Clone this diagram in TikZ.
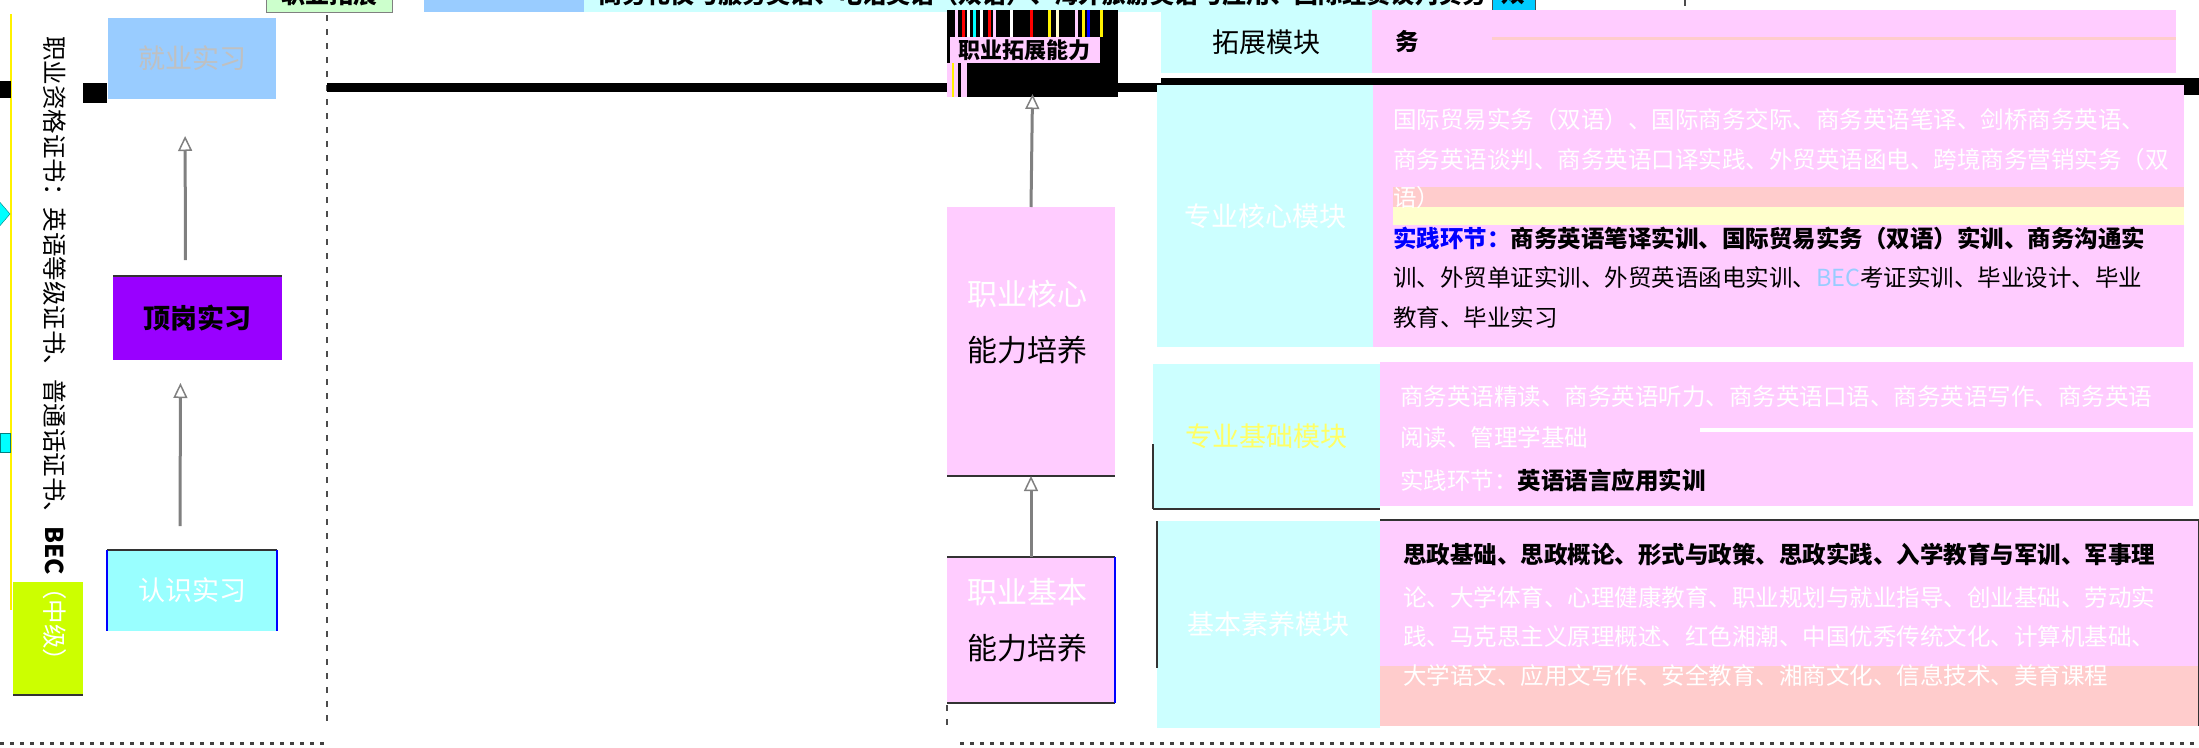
\documentclass[tikz,border=0pt]{standalone}
\usepackage{fontspec}
\newfontfamily\cjk{Noto Sans CJK SC}
\usetikzlibrary{arrows.meta}
\definecolor{lblue}{HTML}{99CCFF}
\definecolor{purp}{HTML}{9900FF}
\definecolor{lcyan}{HTML}{99FFFF}
\definecolor{pcyan}{HTML}{CCFFFF}
\definecolor{ppink}{HTML}{FFCCFF}
\definecolor{salmon}{HTML}{FFCCCC}
\definecolor{pyel}{HTML}{FFFFCC}
\definecolor{lgreen}{HTML}{CCFFCC}
\definecolor{skyb}{HTML}{00CCFF}
\definecolor{ygreen}{HTML}{CCFF00}
\definecolor{cyanb}{HTML}{00FFFF}
\definecolor{bluetxt}{HTML}{0000FF}
\definecolor{ltgray}{HTML}{C0C0C0}
\definecolor{yelt}{HTML}{FFFF66}
\begin{document}
\begin{tikzpicture}[x=1pt,y=-1pt,
  cell/.style={anchor=north west,inner sep=0pt,outer sep=0pt,draw=none},
  lbl/.style={font=\cjk\fontsize{27}{32}\selectfont},
  tline/.style={anchor=west,inner sep=0pt,font=\cjk\fontsize{23.5}{28}\selectfont},
  edge/.style={line width=2pt,black!80},
  bedge/.style={line width=2pt,blue},
  arr/.style={line width=3pt,gray,-{Triangle[length=15pt,width=14pt,line width=1.5pt,fill=white]}},
  dsh/.style={dash pattern=on 6pt off 8pt,line width=2pt,black!70},
  dot/.style={dash pattern=on 4pt off 6pt,line width=3pt,black!75}]
\useasboundingbox (0,0) rectangle (2199,747);
\clip (0,0) rectangle (2199,747);
\fill[white] (0,0) rectangle (2199,747);

% ---------- top strip (cut off at the top edge, as in the reference) ----------
\node[cell,fill=lgreen,draw=gray,minimum width=126pt,minimum height=40pt] (tg) at (266,-28) {};
\node[font=\cjk\bfseries\fontsize{24}{28}\selectfont] (tgt) at (329,-6) {职业拓展};
\node[cell,fill=lblue,minimum width=160pt,minimum height=40pt] (tb) at (424,-28) {};
\node[cell,fill=pcyan,minimum width=866pt,minimum height=40pt] (tc) at (584,-28) {};
\node[tline,font=\cjk\bfseries\fontsize{24}{28}\selectfont] (tct) at (598,-6) {商务礼仪与服务英语、电话英语（双语）、海外旅游英语与应用、国际经贸谈判实务};
\node[cell,fill=skyb,draw=black!70,minimum width=43pt,minimum height=40pt] (ts) at (1492,-28) {};
\node[font=\cjk\bfseries\fontsize{24}{28}\selectfont] (tst) at (1513,-6) {双};
\coordinate (td1) at (1685,0); \coordinate (td2) at (1685,12);
\draw[dsh] (td1) -- (td2);

% ---------- left decorations ----------
\coordinate (ly1) at (11,14); \coordinate (ly2) at (11,610);
\draw[line width=2pt,yellow] (ly1) -- (ly2);
\fill[cyanb,draw=teal] (-2,200) -- (10,214) -- (-2,228) -- cycle;
\fill[cyanb,draw=teal] (0,433) rectangle (10,452);
\fill[black] (0,81) rectangle (11,98);
\fill[black] (83,83) rectangle (107,103);
\node[cell,fill=ygreen,minimum width=70pt,minimum height=113pt] (yg) at (13,582) {};
\draw[edge] (yg.south west) -- (yg.south east);
\node[rotate=-90,anchor=west,inner sep=0pt,font=\cjk\fontsize{24.5}{28}\selectfont] (vt) at (55,36)
  {职业资格证书：英语等级证书、普通话证书、{\bfseries BEC}\textcolor{white}{（中级）}};

% ---------- left group ----------
\node[cell,lbl,fill=lblue,text=ltgray,minimum width=168pt,minimum height=81pt] (jiuye) at (108,18) {就业实习};
\node[cell,lbl,fill=purp,text=black,font=\cjk\bfseries\fontsize{27}{32}\selectfont,minimum width=169pt,minimum height=84pt] (dinggang) at (113,276) {顶岗实习};
\node[cell,lbl,fill=lcyan,text=white,minimum width=170pt,minimum height=81pt] (renshi) at (107,550) {认识实习};
\draw[edge] (dinggang.north west) -- (dinggang.north east);
\draw[edge] (renshi.north west) -- (renshi.north east);
\draw[bedge] (renshi.north west) -- (renshi.south west);
\draw[bedge] (renshi.north east) -- (renshi.south east);
\draw[arr,shorten <=24pt,shorten >=23pt] ([xshift=-12pt]renshi.north) -- ([xshift=-17pt]dinggang.south);
\draw[arr,shorten <=16pt,shorten >=37pt] ([xshift=-12pt]dinggang.north) -- ([xshift=-7pt]jiuye.south);

\coordinate (ld1) at (327,15); \coordinate (ld2) at (327,727);
\draw[dsh] (ld1) -- (ld2);
\coordinate (b1) at (0,743); \coordinate (b2) at (327,743);
\coordinate (b3) at (960,743); \coordinate (b4) at (2199,743);
\draw[dot] (b1) -- (b2);
\draw[dot] (b3) -- (b4);
\coordinate (md1) at (947,705); \coordinate (md2) at (947,730);
\draw[dsh] (md1) -- (md2);

% ---------- thick black line ----------
\fill[black] (327,83) rectangle (1161,92);
\fill[black] (1161,78) rectangle (2199,85);
\fill[black] (2184,78) rectangle (2199,95);

% ---------- glitch block (职业拓展能力) ----------
\node[cell,fill=black,minimum width=171pt,minimum height=87pt] (nl) at (947,10) {};
\foreach \xx/\cc in {955/ppink,962/red,967/white,973/cyanb,980/white,988/red,993/ppink,1010/white,1030/red,1048/yellow,1056/pyel,1075/ppink,1082/yellow,1087/blue,1100/yellow}
  \fill[\cc] (\xx,10) rectangle (\xx+3,37);
\fill[ppink] (950,37) rectangle (1100,63);
\fill[ppink] (947,63) rectangle (967,97);
\fill[yellow] (952,63) rectangle (954,97);
\fill[black] (958,63) rectangle (961,97);
\node[font=\cjk\bfseries\fontsize{22}{26}\selectfont,inner sep=0pt] (nlt) at (1024,50) {职业拓展能力};

% ---------- middle group ----------
\node[cell,fill=ppink,minimum width=168pt,minimum height=269pt] (hexin) at (947,207) {};
\node[anchor=north west,inner sep=0pt,align=left,font=\cjk\fontsize{30}{56}\selectfont] (hexint) at (967,280)
  {\textcolor{white}{职业核心}\\能力培养};
\draw[edge] (hexin.south west) -- (hexin.south east);
\node[cell,fill=ppink,minimum width=168pt,minimum height=146pt] (jiben) at (947,557) {};
\node[anchor=north west,inner sep=0pt,align=left,font=\cjk\fontsize{30}{56}\selectfont] (jibent) at (967,578)
  {\textcolor{white}{职业基本}\\能力培养};
\draw[edge] (jiben.north west) -- (jiben.north east);
\draw[edge] (jiben.south west) -- (jiben.south east);
\draw[bedge] (jiben.north east) -- (jiben.south east);
\draw[arr] (jiben.north) -- (hexin.south);
\draw[arr] (hexin.north) -- ([yshift=3pt]nl.south);

% ---------- table ----------
% row 1
\node[cell,lbl,fill=pcyan,minimum width=211pt,minimum height=61pt] (r1l) at (1161,12) {拓展模块};
\node[cell,fill=ppink,minimum width=804pt,minimum height=63pt] (r1c) at (1372,10) {};
\node[tline,font=\cjk\bfseries\fontsize{23.5}{28}\selectfont] (r1t) at (1395,42) {务};
\fill[salmon] (1492,37) rectangle (2176,40);

% row 2
\node[cell,lbl,fill=pcyan,text=white,minimum width=216pt,minimum height=262pt] (r2l) at (1157,85) {专业核心模块};
\node[cell,fill=ppink,minimum width=811pt,minimum height=262pt] (r2c) at (1373,85) {};
\fill[salmon] (1393,187) rectangle (2184,207);
\fill[pyel] (1393,207) rectangle (2184,225);
\node[tline,text=white] (r2a) at (1393,120) {国际贸易实务（双语）、国际商务交际、商务英语笔译、剑桥商务英语、};
\node[tline,text=white] (r2b) at (1393,160) {商务英语谈判、商务英语口译实践、外贸英语函电、跨境商务营销实务（双};
\node[tline,text=white] (r2d) at (1393,198) {语）};
\node[tline,font=\cjk\bfseries\fontsize{23.5}{28}\selectfont] (r2e) at (1393,238) {\textcolor{bluetxt}{实践环节：}商务英语笔译实训、国际贸易实务（双语）实训、商务沟通实};
\node[tline] (r2f) at (1393,278) {训、外贸单证实训、外贸英语函电实训、\textcolor{lblue}{BEC}考证实训、毕业设计、毕业};
\node[tline] (r2g) at (1393,318) {教育、毕业实习};

% row 3
\node[cell,lbl,fill=pcyan,text=yelt,minimum width=227pt,minimum height=145pt] (r3l) at (1153,364) {专业基础模块};
\node[cell,fill=ppink,minimum width=813pt,minimum height=144pt] (r3c) at (1380,362) {};
\draw[edge] (r3l.south west) -- (r3l.south east);
\draw[edge] ([yshift=-80pt]r3l.north west) -- (r3l.south west);
\fill[white] (1700,428) rectangle (2193,432);
\node[tline,text=white] (r3a) at (1400,397) {商务英语精读、商务英语听力、商务英语口语、商务英语写作、商务英语};
\node[tline,text=white] (r3b) at (1400,438) {阅读、管理学基础};
\node[tline,text=white] (r3d) at (1400,480) {实践环节：\textcolor{black}{\bfseries 英语语言应用实训}};

% row 4
\node[cell,lbl,fill=pcyan,text=white,minimum width=223pt,minimum height=207pt] (r4l) at (1157,521) {基本素养模块};
\node[cell,fill=ppink,minimum width=819pt,minimum height=206pt] (r4c) at (1380,520) {};
\fill[salmon] (1380,666) rectangle (2199,726);
\draw[edge] (r4c.north west) -- (r4c.north east);
\draw[edge] (r4c.north east) -- (r4c.south east);
\draw[edge] (r4l.north west) -- ([yshift=60pt]r4l.south west);
\node[tline,font=\cjk\bfseries\fontsize{23.5}{28}\selectfont] (r4a) at (1403,554) {思政基础、思政概论、形式与政策、思政实践、入学教育与军训、军事理};
\node[tline,text=white] (r4b) at (1403,597) {论、大学体育、心理健康教育、职业规划与就业指导、创业基础、劳动实};
\node[tline,text=white] (r4d) at (1403,637) {践、马克思主义原理概述、红色湘潮、中国优秀传统文化、计算机基础、};
\node[tline,text=white] (r4e) at (1403,676) {大学语文、应用文写作、安全教育、湘商文化、信息技术、美育课程};
\end{tikzpicture}
\end{document}
